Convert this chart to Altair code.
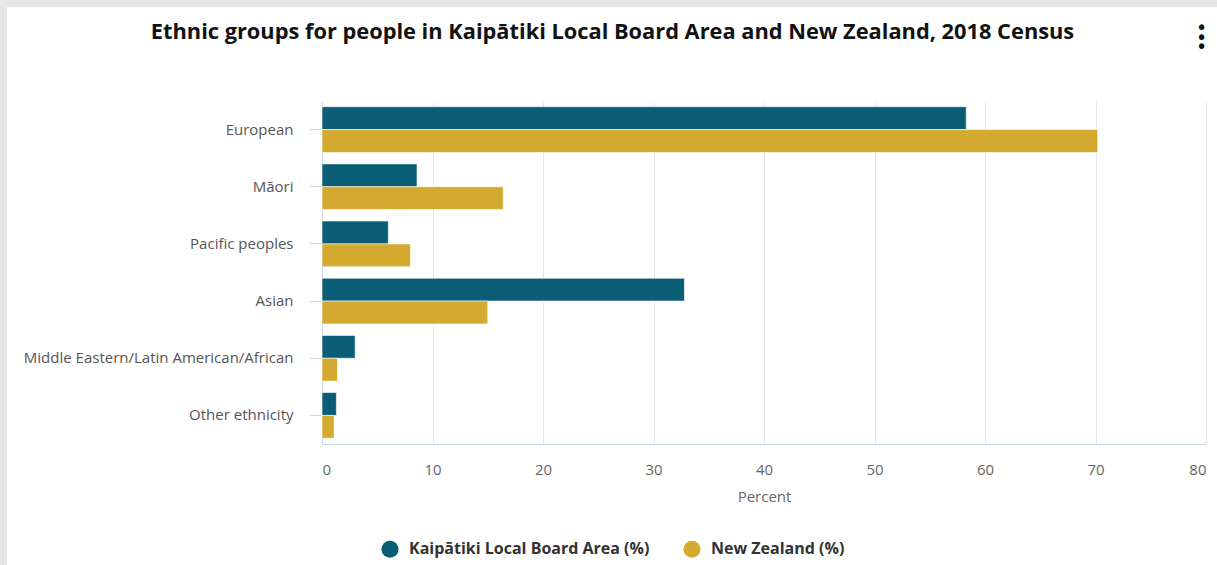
import altair as alt
import pandas as pd

categories = ["European", "Māori", "Pacific peoples", "Asian",
              "Middle Eastern/Latin American/African", "Other ethnicity"]
kaipatiki = [58.3, 8.6, 6.0, 32.8, 3.0, 1.3]
new_zealand = [70.2, 16.4, 8.0, 15.0, 1.4, 1.1]
series_names = ["Kaipātiki Local Board Area (%)", "New Zealand (%)"]
series_colors = ["#0b5c75", "#d3aa2f"]
title_text = "Ethnic groups for people in Kaipātiki Local Board Area and New Zealand, 2018 Census"

rows = []
for c, a, b in zip(categories, kaipatiki, new_zealand):
    rows.append({"group": c, "series": series_names[0], "value": a})
    rows.append({"group": c, "series": series_names[1], "value": b})
df = pd.DataFrame(rows)

FONT = "Open Sans"
PLOT_W, PLOT_H = 884, 343
PAD_L, PAD_T = 322, 101

bars = alt.Chart(df).mark_bar(stroke="white", strokeWidth=1, strokeOpacity=0.6).encode(
    y=alt.Y("group:N", sort=categories, title=None,
            scale=alt.Scale(paddingInner=0.2, paddingOuter=0.1),
            axis=alt.Axis(labelFontSize=15, labelColor="#555555", labelFont=FONT,
                          tickColor="#ccd6eb", tickSize=13, labelPadding=16,
                          domainColor="#ccd6eb", grid=False, labelLimit=400)),
    yOffset=alt.YOffset("series:N", sort=series_names, scale=alt.Scale(paddingInner=0)),
    x=alt.X("value:Q", title="Percent",
            scale=alt.Scale(domain=[0, 80], nice=False),
            axis=alt.Axis(values=list(range(0, 81, 10)), ticks=False, tickSize=0,
                          labelPadding=18, labelFontSize=15, labelColor="#666666",
                          labelFont=FONT, titleFont=FONT, titleFontSize=15,
                          titleFontWeight="normal", titleColor="#666666",
                          titlePadding=12, gridColor="#e6e6e6",
                          domainColor="#ccd6eb")),
    color=alt.Color("series:N", sort=series_names,
                    scale=alt.Scale(domain=series_names, range=series_colors),
                    legend=alt.Legend(title=None, orient="none", direction="horizontal",
                                      legendX=59, legendY=439, symbolType="circle",
                                      symbolSize=290, symbolStrokeWidth=0,
                                      symbolOpacity=1,
                                      labelFont=FONT, labelFontSize=16,
                                      labelFontWeight="bold", labelColor="#333333",
                                      labelOffset=10, columnPadding=33,
                                      labelLimit=400)),
)

one = alt.Data(values=[{"t": title_text}])
frame_left = alt.Chart(one).mark_rect(color="#e6e6e4").encode(
    x=alt.value(-PAD_L), x2=alt.value(-PAD_L + 7),
    y=alt.value(-PAD_T), y2=alt.value(565 - PAD_T))
frame_top = alt.Chart(one).mark_rect(color="#e6e6e4").encode(
    x=alt.value(-PAD_L), x2=alt.value(1217 - PAD_L),
    y=alt.value(-PAD_T), y2=alt.value(-PAD_T + 7))
title = alt.Chart(one).mark_text(font=FONT, fontSize=21.8, fontWeight="bold",
                                 color="#111111", align="center",
                                 baseline="alphabetic").encode(
    text="t:N", x=alt.value(612.5 - PAD_L), y=alt.value(39 - PAD_T))
kebab = alt.Chart(one).mark_text(text=["•", "•", "•"], font="DejaVu Sans", fontSize=19,
                                 lineHeight=9.5, color="#111111",
                                 baseline="middle", align="center").encode(
    x=alt.value(1201.5 - PAD_L), y=alt.value(28 - PAD_T))

chart = alt.layer(frame_left, frame_top, title, bars, kebab).properties(
    width=PLOT_W, height=PLOT_H,
    autosize=alt.AutoSizeParams(type="none"),
    padding={"left": PAD_L, "top": PAD_T, "right": 1217 - PAD_L - PLOT_W,
             "bottom": 565 - PAD_T - PLOT_H},
    background="white",
).configure_view(stroke=None)

chart.save("out.html", embed_options={"renderer": "svg", "actions": False})
